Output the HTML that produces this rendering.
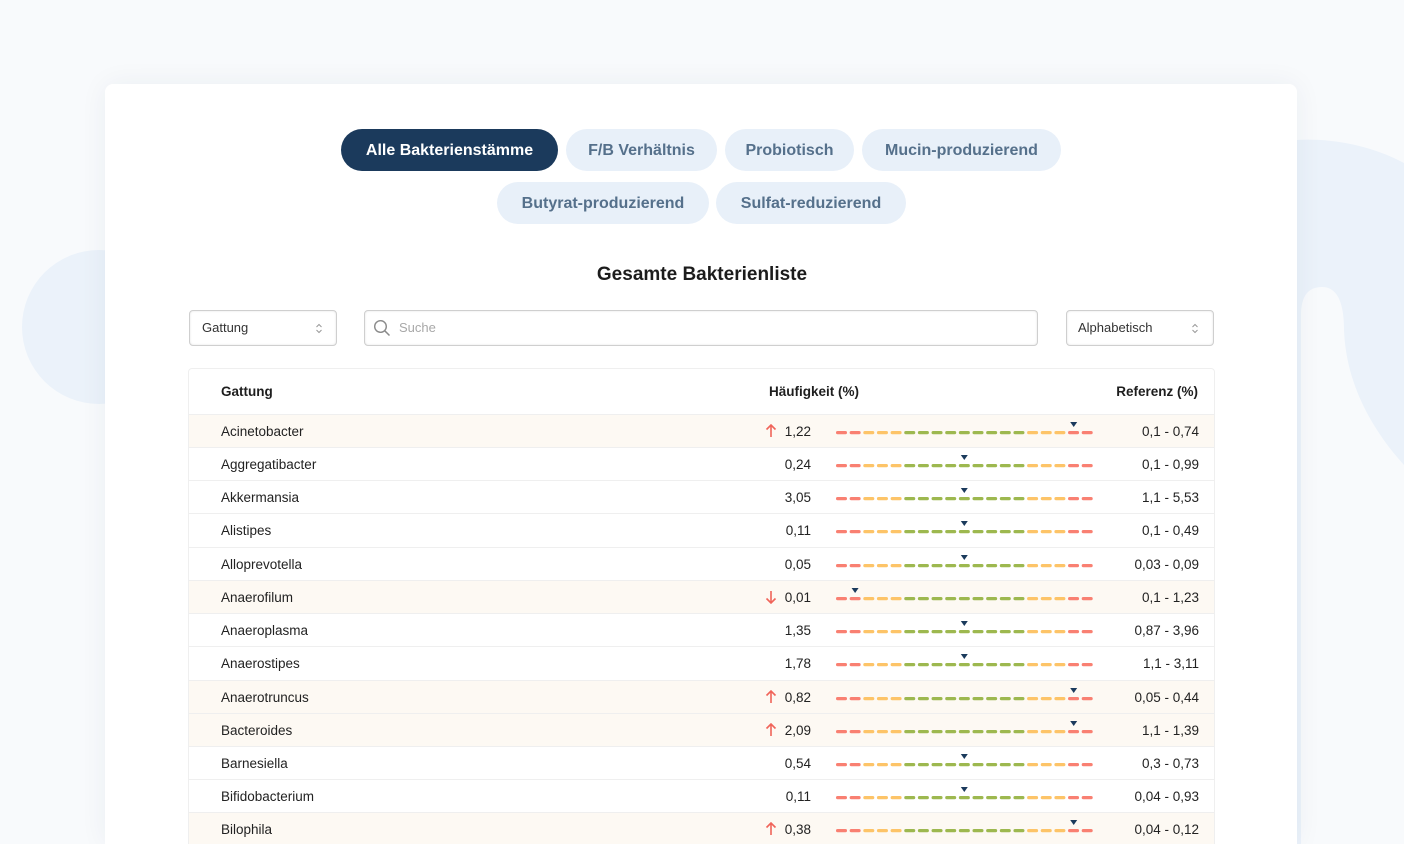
<!DOCTYPE html>
<html>
<head>
<meta charset="utf-8">
<style>
  html,body{margin:0;padding:0;width:1404px;height:844px;overflow:hidden;}
  body{background:#f8fafc;position:relative;font-family:"Liberation Sans",sans-serif;color:#222;}
  .abs{position:absolute;}
  .card{position:absolute;left:105px;top:84px;width:1192px;height:760px;background:#fff;border-radius:8px 8px 0 0;box-shadow:0 0 28px rgba(30,50,80,0.06);}
  .btn{position:absolute;height:42px;line-height:44px;border-radius:21px;background:#e8f0f9;color:#55708b;font-weight:bold;font-size:16px;text-align:center;}
  .btn.active{background:#1b3a5c;color:#fff;}
  .title{position:absolute;left:0;width:1404px;top:264px;text-align:center;font-weight:bold;font-size:19px;color:#1c1c1c;}
  .inp{position:absolute;top:310px;height:34px;border:1px solid #cfcfcf;border-radius:4px;box-shadow:inset 0 0 2px rgba(0,0,0,0.12);background:#fff;font-size:13px;line-height:34px;color:#333;}
  .table{position:absolute;left:188px;top:368px;width:1025px;height:480px;border:1px solid #efefef;border-radius:4px;background:#fff;}
  .hdr{position:absolute;top:384px;font-weight:bold;font-size:13.5px;color:#1e1e1e;}
  .row{position:absolute;left:189px;width:1025px;height:33px;border-top:1px solid #efefef;font-size:13.5px;line-height:33px;color:#222;}
  .row.hl{background:#fdf9f3;}
  .name{position:absolute;left:32px;}
  .val{position:absolute;right:403px;text-align:right;}
  .ref{position:absolute;right:15px;text-align:right;}
  .arr{position:absolute;left:576px;top:9px;}
  .bar{position:absolute;left:647px;top:7px;}
</style>
</head>
<body>
<svg class="abs" style="left:0;top:0" width="1404" height="844">
  <circle cx="99" cy="327" r="77" fill="#ebf2fa"/>
  <path d="M1297,140 C1330,138 1370,145 1404,163 L1404,844 L1297,844 Z" fill="#ebf2fa"/>
  <path d="M1301,844 L1301,315 Q1301,287 1322,287 Q1344,287 1344,330 C1346,380 1368,425 1404,465 L1404,844 Z" fill="#f8fafc"/>
</svg>
<div class="card"></div>

<div class="btn active" style="left:341px;top:129px;width:217px;">Alle Bakterienstämme</div>
<div class="btn" style="left:566px;top:129px;width:151px;">F/B Verhältnis</div>
<div class="btn" style="left:725px;top:129px;width:129px;">Probiotisch</div>
<div class="btn" style="left:862px;top:129px;width:199px;">Mucin-produzierend</div>
<div class="btn" style="left:497px;top:182px;width:212px;">Butyrat-produzierend</div>
<div class="btn" style="left:716px;top:182px;width:190px;">Sulfat-reduzierend</div>

<div class="title">Gesamte Bakterienliste</div>

<div class="inp" style="left:189px;width:146px;"><span style="position:absolute;left:12px;">Gattung</span>
  <svg style="position:absolute;left:125px;top:12px" width="8" height="11"><path d="M1.5,4 L4,1.5 L6.5,4 M1.5,7 L4,9.5 L6.5,7" stroke="#999" stroke-width="1" fill="none"/></svg></div>
<div class="inp" style="left:364px;width:672px;">
  <svg style="position:absolute;left:8px;top:8px" width="18" height="18"><circle cx="7.5" cy="7.5" r="5.8" stroke="#8a8a8a" stroke-width="1.4" fill="none"/><path d="M11.8,11.8 L16.5,16.5" stroke="#8a8a8a" stroke-width="1.5"/></svg>
  <span style="position:absolute;left:34px;color:#a8a8a8;">Suche</span></div>
<div class="inp" style="left:1066px;width:146px;"><span style="position:absolute;left:11px;">Alphabetisch</span>
  <svg style="position:absolute;left:124px;top:12px" width="8" height="11"><path d="M1.5,4 L4,1.5 L6.5,4 M1.5,7 L4,9.5 L6.5,7" stroke="#999" stroke-width="1" fill="none"/></svg></div>

<div class="table"></div>
<div class="hdr" style="left:221px;">Gattung</div>
<div class="hdr" style="left:660px;width:199px;text-align:right;">Häufigkeit (%)</div>
<div class="hdr" style="left:1000px;width:198px;text-align:right;">Referenz (%)</div>

<svg width="0" height="0" style="position:absolute">
  <defs>
    <g id="dashes">
      <rect x="0" y="9" width="11" height="3.2" rx="1.6" fill="#f98072"/>
      <rect x="13.65" y="9" width="11" height="3.2" rx="1.6" fill="#f98072"/>
      <rect x="27.3" y="9" width="11" height="3.2" rx="1.6" fill="#fdc468"/>
      <rect x="40.95" y="9" width="11" height="3.2" rx="1.6" fill="#fdc468"/>
      <rect x="54.6" y="9" width="11" height="3.2" rx="1.6" fill="#fdc468"/>
      <rect x="68.25" y="9" width="11" height="3.2" rx="1.6" fill="#9db84f"/>
      <rect x="81.9" y="9" width="11" height="3.2" rx="1.6" fill="#9db84f"/>
      <rect x="95.55" y="9" width="11" height="3.2" rx="1.6" fill="#9db84f"/>
      <rect x="109.2" y="9" width="11" height="3.2" rx="1.6" fill="#9db84f"/>
      <rect x="122.85" y="9" width="11" height="3.2" rx="1.6" fill="#9db84f"/>
      <rect x="136.5" y="9" width="11" height="3.2" rx="1.6" fill="#9db84f"/>
      <rect x="150.15" y="9" width="11" height="3.2" rx="1.6" fill="#9db84f"/>
      <rect x="163.8" y="9" width="11" height="3.2" rx="1.6" fill="#9db84f"/>
      <rect x="177.45" y="9" width="11" height="3.2" rx="1.6" fill="#9db84f"/>
      <rect x="191.1" y="9" width="11" height="3.2" rx="1.6" fill="#fdc468"/>
      <rect x="204.75" y="9" width="11" height="3.2" rx="1.6" fill="#fdc468"/>
      <rect x="218.4" y="9" width="11" height="3.2" rx="1.6" fill="#fdc468"/>
      <rect x="232.05" y="9" width="11" height="3.2" rx="1.6" fill="#f98072"/>
      <rect x="245.7" y="9" width="11" height="3.2" rx="1.6" fill="#f98072"/>
    </g>
    <path id="mk-hi" d="M234.2,0 L241.2,0 L237.7,5 Z" fill="#1b3a5c"/>
    <path id="mk-mid" d="M124.8,0 L131.8,0 L128.3,5 Z" fill="#1b3a5c"/>
    <path id="mk-lo" d="M15.6,0 L22.6,0 L19.1,5 Z" fill="#1b3a5c"/>
    <g id="up"><path d="M6,1 L6,13 M1.5,5.5 L6,1 L10.5,5.5" stroke="#f0645a" stroke-width="1.6" fill="none"/></g>
    <g id="down"><path d="M6,1 L6,13 M1.5,8.5 L6,13 L10.5,8.5" stroke="#f0645a" stroke-width="1.6" fill="none"/></g>
  </defs>
</svg>

<div class="row hl" style="top:414px;"><span class="name">Acinetobacter</span><svg class="arr" width="12" height="14"><use href="#up"/></svg><span class="val">1,22</span><svg class="bar" width="260" height="14"><use href="#mk-hi"/><use href="#dashes"/></svg><span class="ref">0,1 - 0,74</span></div>
<div class="row" style="top:447px;"><span class="name">Aggregatibacter</span><span class="val">0,24</span><svg class="bar" width="260" height="14"><use href="#mk-mid"/><use href="#dashes"/></svg><span class="ref">0,1 - 0,99</span></div>
<div class="row" style="top:480px;"><span class="name">Akkermansia</span><span class="val">3,05</span><svg class="bar" width="260" height="14"><use href="#mk-mid"/><use href="#dashes"/></svg><span class="ref">1,1 - 5,53</span></div>
<div class="row" style="top:513px;"><span class="name">Alistipes</span><span class="val">0,11</span><svg class="bar" width="260" height="14"><use href="#mk-mid"/><use href="#dashes"/></svg><span class="ref">0,1 - 0,49</span></div>
<div class="row" style="top:547px;"><span class="name">Alloprevotella</span><span class="val">0,05</span><svg class="bar" width="260" height="14"><use href="#mk-mid"/><use href="#dashes"/></svg><span class="ref">0,03 - 0,09</span></div>
<div class="row hl" style="top:580px;"><span class="name">Anaerofilum</span><svg class="arr" width="12" height="14"><use href="#down"/></svg><span class="val">0,01</span><svg class="bar" width="260" height="14"><use href="#mk-lo"/><use href="#dashes"/></svg><span class="ref">0,1 - 1,23</span></div>
<div class="row" style="top:613px;"><span class="name">Anaeroplasma</span><span class="val">1,35</span><svg class="bar" width="260" height="14"><use href="#mk-mid"/><use href="#dashes"/></svg><span class="ref">0,87 - 3,96</span></div>
<div class="row" style="top:646px;"><span class="name">Anaerostipes</span><span class="val">1,78</span><svg class="bar" width="260" height="14"><use href="#mk-mid"/><use href="#dashes"/></svg><span class="ref">1,1 - 3,11</span></div>
<div class="row hl" style="top:680px;"><span class="name">Anaerotruncus</span><svg class="arr" width="12" height="14"><use href="#up"/></svg><span class="val">0,82</span><svg class="bar" width="260" height="14"><use href="#mk-hi"/><use href="#dashes"/></svg><span class="ref">0,05 - 0,44</span></div>
<div class="row hl" style="top:713px;"><span class="name">Bacteroides</span><svg class="arr" width="12" height="14"><use href="#up"/></svg><span class="val">2,09</span><svg class="bar" width="260" height="14"><use href="#mk-hi"/><use href="#dashes"/></svg><span class="ref">1,1 - 1,39</span></div>
<div class="row" style="top:746px;"><span class="name">Barnesiella</span><span class="val">0,54</span><svg class="bar" width="260" height="14"><use href="#mk-mid"/><use href="#dashes"/></svg><span class="ref">0,3 - 0,73</span></div>
<div class="row" style="top:779px;"><span class="name">Bifidobacterium</span><span class="val">0,11</span><svg class="bar" width="260" height="14"><use href="#mk-mid"/><use href="#dashes"/></svg><span class="ref">0,04 - 0,93</span></div>
<div class="row hl" style="top:812px;"><span class="name">Bilophila</span><svg class="arr" width="12" height="14"><use href="#up"/></svg><span class="val">0,38</span><svg class="bar" width="260" height="14"><use href="#mk-hi"/><use href="#dashes"/></svg><span class="ref">0,04 - 0,12</span></div>

</body>
</html>
